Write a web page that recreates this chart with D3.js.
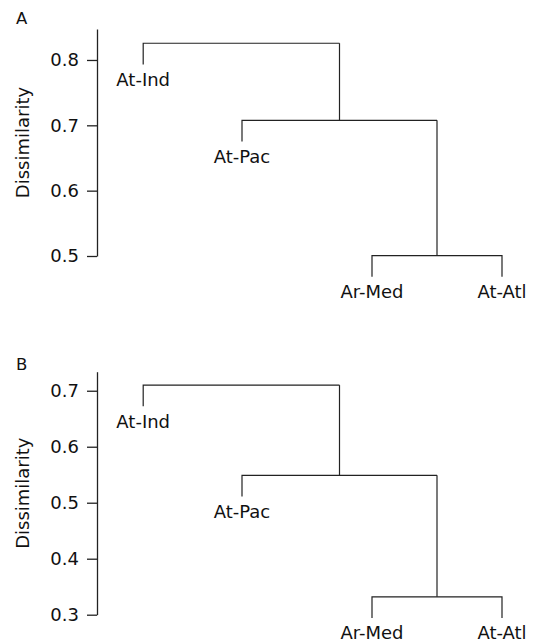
<!DOCTYPE html>
<html>
<head>
<meta charset="utf-8">
<script src="https://cdn.jsdelivr.net/npm/d3@7.9.0/dist/d3.min.js"></script>
<style>
  body { margin: 0; background: #fff; }
  text { font-family: "DejaVu Sans", sans-serif; fill: #111; }
</style>
</head>
<body>
<script>
// leaves in plotting order and their position along the horizontal (leaf units)
const leaves = ["At-Ind", "At-Pac", "Ar-Med", "At-Atl"];
const leafPos = [1.24, 2, 3, 4];

// merge heights: [At-Ind + rest, At-Pac + rest, Ar-Med + At-Atl]
const heightsA = [0.8256, 0.7077, 0.5007];
const heightsB = [0.710, 0.549, 0.332];

const ticksA = [0.5, 0.6, 0.7, 0.8];
const ticksB = [0.3, 0.4, 0.5, 0.6, 0.7];

const width = 535, height = 642;
const axisX = 97;

const svg = d3.select("body").append("svg")
    .attr("width", width)
    .attr("height", height);

const x = d3.scaleLinear().domain([1, 4]).range([112, 502]);

function drawPanel(letter, heights, ticks, yDomain, yRange, labelTop) {
  const y = d3.scaleLinear().domain(yDomain).range(yRange);
  const g = svg.append("g");

  // y axis
  const axis = g.append("g")
      .attr("transform", `translate(${axisX},0)`)
      .call(d3.axisLeft(y).tickValues(ticks).tickFormat(d3.format(".1f"))
        .tickSize(10).tickSizeOuter(0).tickPadding(8));
  axis.select(".domain").attr("stroke", "#222").attr("stroke-width", 1.3);
  axis.selectAll(".tick line").attr("stroke", "#222").attr("stroke-width", 1.3);
  axis.selectAll(".tick text")
      .style("font-family", "DejaVu Sans, sans-serif")
      .style("font-size", "18px")
      .attr("fill", "#111");

  // axis title
  const mid = (yRange[0] + yRange[1]) / 2;
  g.append("text")
      .attr("transform", `translate(29,${mid}) rotate(-90)`)
      .attr("text-anchor", "middle")
      .style("font-size", "18px")
      .text("Dissimilarity");

  // panel letter
  g.append("text")
      .attr("x", 16)
      .attr("y", labelTop)
      .style("font-size", "16.5px")
      .text(letter);

  // dendrogram: (At-Ind, (At-Pac, (Ar-Med, At-Atl)))
  const hang = 0.1 * (d3.max(heights) - d3.min(heights));
  const h1 = heights[0], h2 = heights[1], h3 = heights[2];
  const c3 = (leafPos[2] + leafPos[3]) / 2;
  const c2 = (leafPos[1] + c3) / 2;

  const segs = [
    // lowest merge
    [[leafPos[2], h3 - hang], [leafPos[2], h3], [leafPos[3], h3], [leafPos[3], h3 - hang]],
    [[c3, h3], [c3, h2]],
    // middle merge
    [[leafPos[1], h2 - hang], [leafPos[1], h2], [c3, h2]],
    [[c2, h2], [c2, h1]],
    // top merge
    [[leafPos[0], h1 - hang], [leafPos[0], h1], [c2, h1]]
  ];
  const line = d3.line().x(d => x(d[0])).y(d => y(d[1]));
  g.selectAll("path.branch")
    .data(segs)
    .join("path")
      .attr("class", "branch")
      .attr("d", line)
      .attr("fill", "none")
      .attr("stroke", "#222")
      .attr("stroke-width", 1.2);

  // leaf labels
  const leafH = [h1, h2, h3, h3];
  g.selectAll("text.leaf")
    .data(leaves)
    .join("text")
      .attr("class", "leaf")
      .attr("x", (d, i) => x(leafPos[i]))
      .attr("y", (d, i) => y(leafH[i] - hang) + 21.5)
      .attr("text-anchor", "middle")
      .style("font-size", "18px")
      .text(d => d);
}

drawPanel("A", heightsA, ticksA, [0.5, 0.8474], [256, 29], 24);
drawPanel("B", heightsB, ticksB, [0.3, 0.734], [614.7, 371.7], 370);
</script>
</body>
</html>
